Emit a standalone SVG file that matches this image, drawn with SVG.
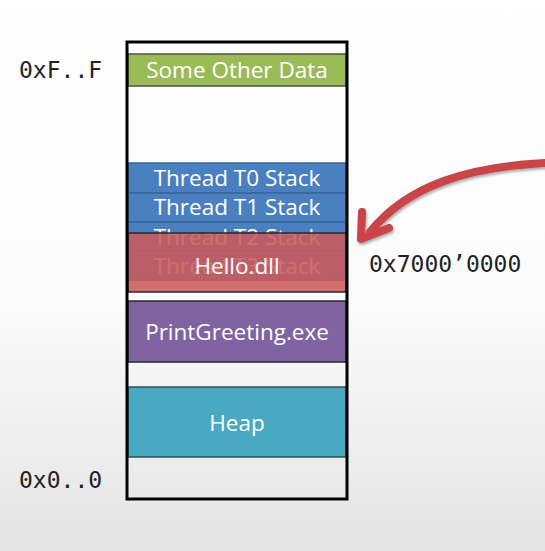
<svg xmlns="http://www.w3.org/2000/svg" width="545" height="551" viewBox="0 0 545 551">
  <defs>
    <linearGradient id="bg" x1="0" y1="0" x2="0" y2="1">
      <stop offset="0" stop-color="#ffffff"/>
      <stop offset="0.55" stop-color="#fbfbfb"/>
      <stop offset="1" stop-color="#e4e4e4"/>
    </linearGradient>
    <filter id="shadow" x="-20%" y="-20%" width="140%" height="140%">
      <feGaussianBlur in="SourceAlpha" stdDeviation="1.5"/>
      <feOffset dx="1" dy="2" result="b"/>
      <feComponentTransfer><feFuncA type="linear" slope="0.35"/></feComponentTransfer>
      <feMerge><feMergeNode/><feMergeNode in="SourceGraphic"/></feMerge>
    </filter>
  </defs>
  <style>
    .lbl { font-family: "Open Sans", "Noto Sans", "DejaVu Sans", sans-serif; font-size: 22.5px; fill: #ffffff; text-anchor: middle; }
    .addr { font-family: "DejaVu Sans Mono", "Liberation Mono", monospace; font-size: 23px; fill: #222222; }
    .band { stroke-width: 1.5; }
  </style>

  <rect x="0" y="0" width="545" height="551" fill="url(#bg)"/>

  <!-- address labels -->
  <text class="addr" x="19" y="78">0xF..F</text>
  <text class="addr" x="19" y="488">0x0..0</text>
  <text class="addr" x="369" y="272">0x7000’0000</text>

  <g id="other-data">
    <rect class="band" x="128" y="54" width="218" height="32" fill="#9bbb59" stroke="#4a5a30"/>
    <text class="lbl" x="237" y="78" fill="#f3f8e8">Some Other Data</text>
  </g>

  <g id="thread-stacks">
    <rect class="band" x="128" y="163" width="218" height="30" fill="#4a7fc0" stroke="#3a659c"/>
    <text class="lbl" x="237" y="186">Thread T0 Stack</text>
    <rect class="band" x="128" y="193" width="218" height="29" fill="#4a7fc0" stroke="#3a659c"/>
    <text class="lbl" x="237" y="215">Thread T1 Stack</text>
    <rect class="band" x="128" y="222" width="218" height="29" fill="#4a7fc0" stroke="#3a659c"/>
    <text class="lbl" x="237" y="245">Thread T2 Stack</text>
    <rect class="band" x="128" y="251" width="218" height="29" fill="#4a7fc0" stroke="#3a659c"/>
    <text class="lbl" x="237" y="274">Thread T3 Stack</text>
  </g>

  <g id="hello-dll">
    <rect x="128" y="233" width="218" height="59" fill="#cc5a5a" fill-opacity="0.88" stroke="#2a2a2a" stroke-width="1.5"/>
    <text class="lbl" x="237" y="274">Hello.dll</text>
  </g>

  <g id="print-greeting">
    <rect class="band" x="128" y="301" width="218" height="61" fill="#8064a2" stroke="#2e2438"/>
    <text class="lbl" x="237" y="340">PrintGreeting.exe</text>
  </g>

  <g id="heap">
    <rect class="band" x="128" y="387" width="218" height="70" fill="#49a9c3" stroke="#24505c"/>
    <text class="lbl" x="237" y="431" fill="#eaf6fa">Heap</text>
  </g>

  <!-- address space outline -->
  <g id="address-space">
    <rect x="127" y="42" width="220" height="457" fill="none" stroke="#000000" stroke-width="3"/>
  </g>

  <g id="connectors">
    <g filter="url(#shadow)" stroke="#c9454a" fill="none" stroke-linecap="round" stroke-linejoin="round">
      <path d="M 545 163 C 468 167 408 185 370 232" stroke-width="8"/>
      <path d="M 362 212 L 361 239 L 389 228" stroke-width="8"/>
    </g>
  </g>
</svg>
